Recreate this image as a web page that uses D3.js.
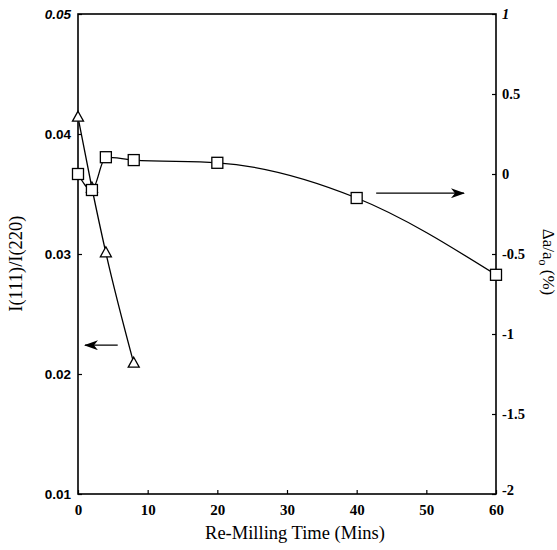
<!DOCTYPE html>
<html>
<head>
<meta charset="utf-8">
<script src="https://cdn.jsdelivr.net/npm/d3@7"></script>
<style>
  body { margin: 0; background: #fff; }
  svg { display: block; }
  .tick text { fill: #000; }
  .serif { font-family: "Liberation Serif", "Times New Roman", serif; }
  .sans { font-family: "Liberation Sans", Arial, sans-serif; }
</style>
</head>
<body>
<div id="chart"></div>
<script>
// re-milling time (mins)
const times = [0, 2, 4, 8, 20, 40, 60];
// intensity ratio I(111)/I(220), left axis
const ratioTimes = [0, 2, 4, 8];
const ratioValues = [0.0414, 0.0355, 0.0301, 0.0209];
// lattice parameter change, right axis (%)
const latticeValues = [0.0, -0.1, 0.105, 0.087, 0.07, -0.15, -0.63];

const xTicks = [0, 10, 20, 30, 40, 50, 60];
const leftTicks = [0.01, 0.02, 0.03, 0.04, 0.05];
const rightTicks = [-2, -1.5, -1, -0.5, 0, 0.5, 1];

// arrows pointing each series at its axis: [x0, x1, y] in data units
const leftArrow = [5.7, 1.0, 0.0224];
const rightArrow = [42.8, 55.4, -0.12];

const W = 557, H = 550;
const margin = {top: 14, right: 61, bottom: 56, left: 78};
const width = W - margin.left - margin.right;
const height = H - margin.top - margin.bottom;

const svg = d3.select("#chart").append("svg")
    .attr("width", W)
    .attr("height", H);

const g = svg.append("g")
    .attr("transform", `translate(${margin.left},${margin.top})`);

const x = d3.scaleLinear().domain([0, 60]).range([0, width]);
const yL = d3.scaleLinear().domain([0.01, 0.05]).range([height, 0]);
const yR = d3.scaleLinear().domain([-2, 1]).range([height, 0]);

// arrowhead
svg.append("defs").append("marker")
    .attr("id", "head")
    .attr("viewBox", "0 0 14 10")
    .attr("refX", 13)
    .attr("refY", 5)
    .attr("markerWidth", 14)
    .attr("markerHeight", 10)
    .attr("markerUnits", "userSpaceOnUse")
    .attr("orient", "auto")
    .append("path")
    .attr("d", "M0,0 L14,5 L0,10 L4,5 Z")
    .attr("fill", "#000");

// axes, ticks drawn inward
const xAxis = d3.axisBottom(x).tickValues(xTicks).tickSizeInner(-4).tickSizeOuter(0).tickPadding(10);
const leftAxis = d3.axisLeft(yL).tickValues(leftTicks).tickSizeInner(-4).tickSizeOuter(0).tickPadding(7)
    .tickFormat(d3.format(".2f"));
const rightAxis = d3.axisRight(yR).tickValues(rightTicks).tickSizeInner(-4).tickSizeOuter(0).tickPadding(6)
    .tickFormat(d => String(d));

const gx = g.append("g")
    .attr("transform", `translate(0,${height})`)
    .call(xAxis);
gx.selectAll("text").attr("class", "serif")
    .style("font-size", "15px").style("font-weight", "bold");

const gl = g.append("g").call(leftAxis);
gl.selectAll("text").attr("class", "sans")
    .style("font-size", "13.5px").style("font-weight", "bold")
    .style("font-style", d => d === 0.05 ? "italic" : "normal");

const gr = g.append("g")
    .attr("transform", `translate(${width},0)`)
    .call(rightAxis);
gr.selectAll("text").attr("class", "serif")
    .style("font-size", "14.5px").style("font-weight", "bold")
    .style("font-style", d => d === 1 ? "italic" : "normal");
// the -2 label sits raised beside the 60 tick
gr.selectAll(".tick").filter(d => d === -2).select("text").attr("dy", "0");

g.selectAll(".domain").remove();
g.selectAll(".tick line").attr("stroke", "#000").attr("stroke-width", 1.2);

// frame
g.append("rect")
    .attr("width", width)
    .attr("height", height)
    .attr("fill", "none")
    .attr("stroke", "#000")
    .attr("stroke-width", 1.6);

// axis titles
g.append("text")
    .attr("class", "serif")
    .attr("x", width / 2 + 8)
    .attr("y", height + 45)
    .attr("text-anchor", "middle")
    .style("font-size", "18.5px")
    .text("Re-Milling Time (Mins)");

g.append("text")
    .attr("class", "serif")
    .attr("transform", `translate(${-56},${yL(0.0292)}) rotate(-90)`)
    .attr("text-anchor", "middle")
    .style("font-size", "18.5px")
    .text("I(111)/I(220)");

const rt = g.append("text")
    .attr("class", "serif")
    .attr("transform", `translate(${width + 47},${yR(-0.55)}) rotate(90)`)
    .attr("text-anchor", "middle")
    .style("font-size", "17px");
rt.append("tspan").text("Δa/a");
rt.append("tspan").attr("dy", 4).style("font-size", "12px").text("o");
rt.append("tspan").attr("dy", -4).text(" (%)");

// series lines
const ratioPts = ratioTimes.map((t, i) => [x(t), yL(ratioValues[i])]);
const latticePts = times.map((t, i) => [x(t), yR(latticeValues[i])]);
const line = d3.line().curve(d3.curveMonotoneX);

g.append("path")
    .attr("d", line(ratioPts))
    .attr("fill", "none")
    .attr("stroke", "#000")
    .attr("stroke-width", 1.3);

g.append("path")
    .attr("d", line(latticePts))
    .attr("fill", "none")
    .attr("stroke", "#000")
    .attr("stroke-width", 1.3);

// triangles
g.selectAll(".tri")
    .data(ratioPts)
    .join("path")
    .attr("class", "tri")
    .attr("transform", d => `translate(${d[0]},${d[1]})`)
    .attr("d", "M0,-6 L5.5,4 L-5.5,4 Z")
    .attr("fill", "#fff")
    .attr("stroke", "#000")
    .attr("stroke-width", 1.3);

// squares
g.selectAll(".sq")
    .data(latticePts)
    .join("rect")
    .attr("class", "sq")
    .attr("x", d => d[0] - 5.5)
    .attr("y", d => d[1] - 5.5)
    .attr("width", 11)
    .attr("height", 11)
    .attr("fill", "#fff")
    .attr("stroke", "#000")
    .attr("stroke-width", 1.3);

// arrows
g.append("line")
    .attr("x1", x(leftArrow[0])).attr("x2", x(leftArrow[1]))
    .attr("y1", yL(leftArrow[2])).attr("y2", yL(leftArrow[2]))
    .attr("stroke", "#000").attr("stroke-width", 1.2)
    .attr("marker-end", "url(#head)");

g.append("line")
    .attr("x1", x(rightArrow[0])).attr("x2", x(rightArrow[1]))
    .attr("y1", yR(rightArrow[2])).attr("y2", yR(rightArrow[2]))
    .attr("stroke", "#000").attr("stroke-width", 1.2)
    .attr("marker-end", "url(#head)");
</script>
</body>
</html>
